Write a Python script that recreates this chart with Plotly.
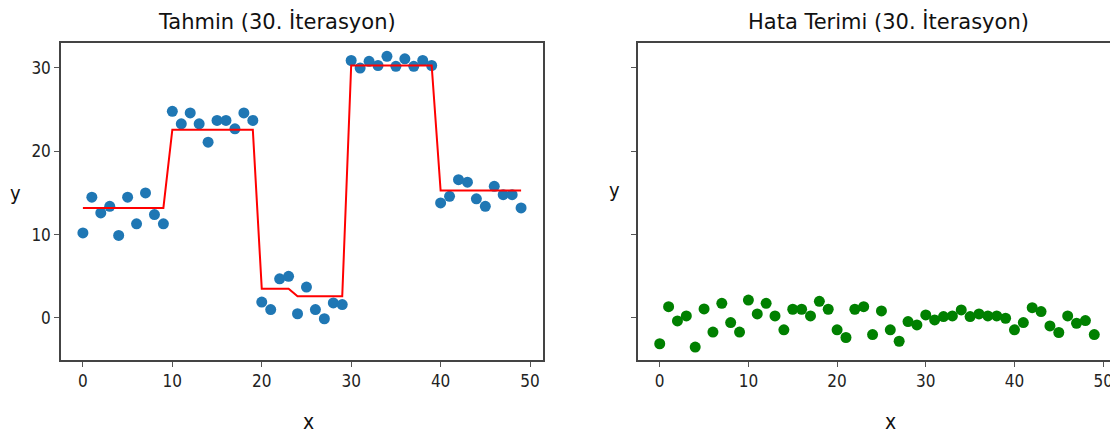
import plotly.graph_objects as go

x = list(range(50))
y_obs = [10.2, 14.5, 12.6, 13.4, 9.9, 14.5, 11.3, 15.0, 12.4, 11.3,
         24.8, 23.3, 24.6, 23.3, 21.1, 23.7, 23.7, 22.7, 24.6, 23.7,
         1.9, 1.0, 4.7, 5.0, 0.5, 3.7, 1.0, -0.1, 1.8, 1.6,
         30.9, 30.0, 30.8, 30.3, 31.4, 30.2, 31.1, 30.2, 30.9, 30.3,
         13.8, 14.6, 16.6, 16.3, 14.3, 13.4, 15.8, 14.8, 14.8, 13.2]
y_pred = [13.2] * 10 + [22.6] * 10 + [3.5] * 4 + [2.6] * 6 + [30.3] * 10 + [15.3] * 10
resid = [-3.1, 1.35, -0.36, 0.24, -3.5, 1.08, -1.7, 1.75, -0.56, -1.7,
         2.15, 0.48, 1.75, 0.24, -1.43, 1.04, 1.04, 0.24, 2.0, 1.04,
         -1.43, -2.35, 1.04, 1.35, -2.0, 0.84, -1.43, -2.8, -0.44, -0.84,
         0.36, -0.24, 0.16, 0.24, 0.96, 0.16, 0.48, 0.24, 0.24, -0.04,
         -1.43, -0.56, 1.23, 0.76, -0.96, -1.75, 0.24, -0.64, -0.32, -2.0]
xticks = [0, 10, 20, 30, 40, 50]
yticks = [0, 10, 20, 30]
titles = ["Tahmin (30. İterasyon)", "Hata Terimi (30. İterasyon)"]

TITLE_FONT = "DejaVu Sans"
TICK_FONT = "DejaVu Sans Condensed"
W, H = 1118, 437
OFF = 8  # page body margin


def px(v):
    return (v - OFF) / W


def py(v):
    return 1 - (v - OFF) / H


fig = go.Figure()
fig.add_trace(go.Scatter(x=x, y=y_obs, mode="markers", xaxis="x", yaxis="y",
                         marker=dict(color="#1f77b4", size=11), showlegend=False))
fig.add_trace(go.Scatter(x=x, y=y_pred, mode="lines", xaxis="x", yaxis="y",
                         line=dict(color="red", width=2), showlegend=False))
fig.add_trace(go.Scatter(x=x, y=resid, mode="markers", xaxis="x2", yaxis="y2",
                         marker=dict(color="green", size=11), showlegend=False))

axis_common = dict(showline=True, mirror=True, linecolor="#444", linewidth=1.5,
                   ticks="outside", ticklen=5, tickcolor="#555", tickwidth=1,
                   showgrid=False, zeroline=False,
                   tickfont=dict(family=TICK_FONT, size=17, color="#222"))
fig.update_layout(
    width=W, height=H, margin=dict(l=0, r=0, t=0, b=0),
    plot_bgcolor="white", paper_bgcolor="white",
    xaxis=dict(domain=[px(61), px(543)], range=[-2.45, 51.45], tickvals=xticks,
               anchor="y", **axis_common),
    yaxis=dict(domain=[py(360), py(43)], range=[-5.05, 33.0], tickvals=yticks,
               anchor="x", **axis_common),
    xaxis2=dict(domain=[px(638), px(1116)], range=[-2.45, 51.45], tickvals=xticks,
                anchor="y2", **axis_common),
    yaxis2=dict(domain=[py(360), py(43)], range=[-5.05, 33.0], tickvals=yticks,
                showticklabels=False, anchor="x2", matches="y", **axis_common),
)

ann = [
    dict(text=titles[0], x=277, y=21, size=21, fam=TITLE_FONT),
    dict(text=titles[1], x=888, y=21, size=21, fam=TITLE_FONT),
    dict(text="x", x=308, y=422, size=21, fam=TICK_FONT),
    dict(text="x", x=890, y=422, size=21, fam=TICK_FONT),
    dict(text="y", x=15, y=193, size=20, fam=TICK_FONT),
    dict(text="y", x=614, y=190, size=20, fam=TICK_FONT),
]
for a in ann:
    fig.add_annotation(text=a["text"], x=px(a["x"]), y=py(a["y"]), xref="paper", yref="paper",
                       showarrow=False, xanchor="center", yanchor="middle",
                       borderpad=0, borderwidth=0,
                       font=dict(family=a["fam"], size=a["size"], color="#111"))

fig.write_html("out.html")
